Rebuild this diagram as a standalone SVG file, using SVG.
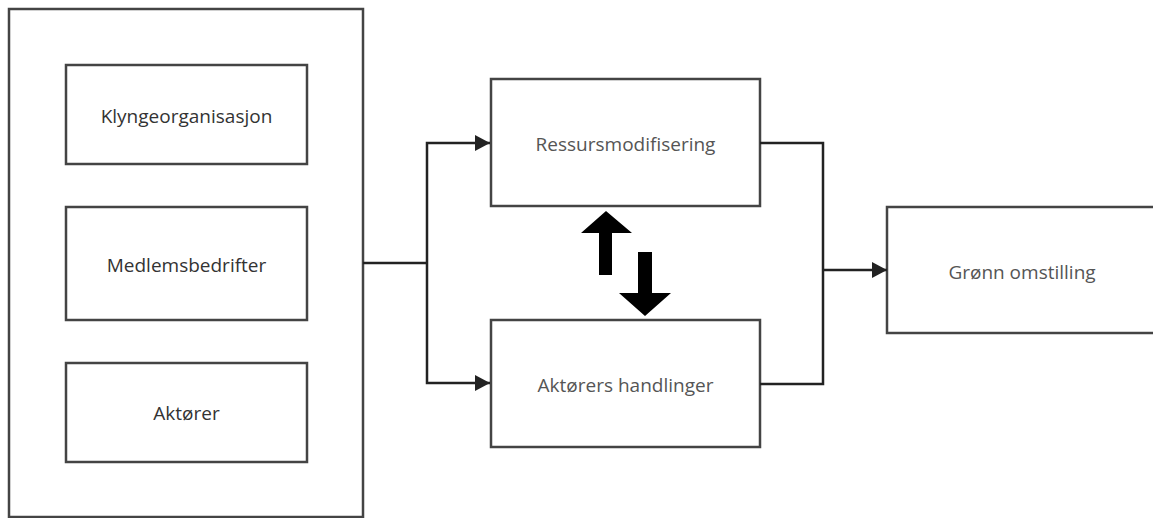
<svg xmlns="http://www.w3.org/2000/svg" width="1153" height="518" viewBox="0 0 1153 518">
<style>
.box{fill:#fff;stroke:#444;stroke-width:2.5}
.lbl{font-family:"Open Sans","Noto Sans",sans-serif;font-size:19px;text-anchor:middle;dominant-baseline:central}
.dark{fill:#333;font-weight:500}
.light{fill:#555}
.con{fill:none;stroke:#222;stroke-width:2.5}
</style>
<defs>
<marker id="ah" markerWidth="16" markerHeight="18" refX="15" refY="9" orient="auto" markerUnits="userSpaceOnUse">
<path d="M0,1 L15,9 L0,17 Z" fill="#222"/>
</marker>
</defs>
<rect width="1153" height="518" fill="#fff"/>
<g id="outer"><rect class="box" x="9" y="9" width="354" height="508"/></g>
<g id="klynge"><rect class="box" x="66" y="65" width="241" height="99"/><text class="lbl dark" x="186.5" y="116">Klyngeorganisasjon</text></g>
<g id="medlem"><rect class="box" x="66" y="207" width="241" height="113"/><text class="lbl dark" x="186.5" y="265">Medlemsbedrifter</text></g>
<g id="aktorer"><rect class="box" x="66" y="363" width="241" height="99"/><text class="lbl dark" x="186.5" y="413">Aktører</text></g>
<g id="ressurs"><rect class="box" x="491" y="79" width="269" height="127"/><text class="lbl light" x="625.5" y="144">Ressursmodifisering</text></g>
<g id="handlinger"><rect class="box" x="491" y="320" width="269" height="127"/><text class="lbl light" x="625.5" y="385">Aktørers handlinger</text></g>
<g id="gronn"><rect class="box" x="887" y="207" width="280" height="126"/><text class="lbl light" x="1022" y="272">Grønn omstilling</text></g>
<g id="connectors">
<path class="con" d="M363,263 H427"/>
<path class="con" d="M427,263 V143 H490" marker-end="url(#ah)"/>
<path class="con" d="M427,263 V383 H490" marker-end="url(#ah)"/>
<path class="con" d="M760,143 H823 V384 H760"/>
<path class="con" d="M823,270 H887" marker-end="url(#ah)"/>
</g>
<g id="exchange" fill="#000">
<path d="M606,211 L632,233 L612,233 L612,275 L599,275 L599,233 L581,233 Z"/>
<path d="M645,316 L671,293 L652,293 L652,252 L638,252 L638,293 L619,293 Z"/>
</g>
</svg>
